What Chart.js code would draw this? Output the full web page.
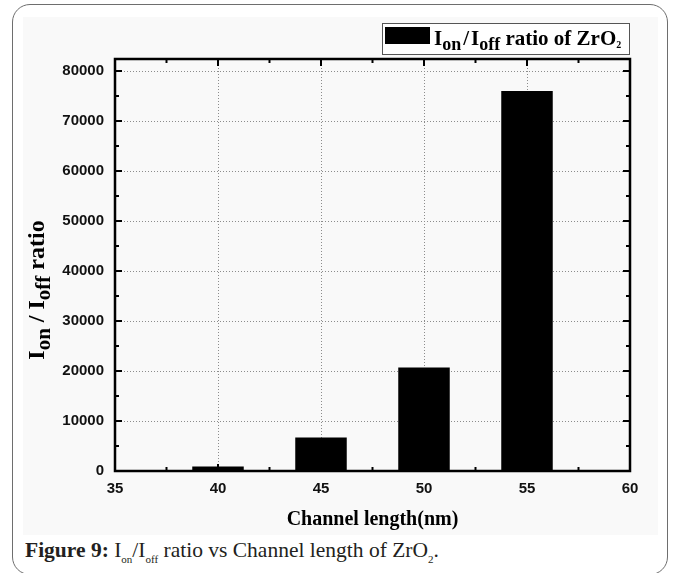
<!DOCTYPE html>
<html>
<head>
<meta charset="utf-8">
<script src="https://cdn.jsdelivr.net/npm/chart.js@4/dist/chart.umd.min.js"></script>
<style>
  html, body { margin: 0; padding: 0; background: #fff; width: 673px; height: 573px; overflow: hidden; }
  #frame { position: absolute; left: 12px; top: 4px; width: 656px; height: 571px; border: 1.5px solid #6e6e6e; border-radius: 18px; box-sizing: border-box; }
  #plot { position: absolute; left: 23px; top: 17px; width: 635px; height: 518px; background: #f9f9f9; }
  #caption { position: absolute; left: 25px; top: 540px; font-family: "Liberation Serif", serif; font-size: 21.5px; line-height: 21px; color: #231f20; white-space: nowrap; }
  #caption sub { font-size: 11px; vertical-align: -6px; line-height: 0; }
</style>
</head>
<body>
<div id="frame"></div>
<div id="plot"><canvas id="chart" width="635" height="518"></canvas></div>
<div id="caption"><b>Figure 9:</b> I<sub>on</sub>/I<sub>off</sub> ratio vs Channel length of ZrO<sub>2</sub>.</div>
<script>
// Channel length (nm) and the measured on/off current ratio
const channelLengths = [40, 45, 50, 55];
const onOffRatios = [900, 6700, 20700, 76000];
const xTickValues = [35, 40, 45, 50, 55, 60];
const yTickValues = [0, 10000, 20000, 30000, 40000, 50000, 60000, 70000, 80000];
const xMinorValues = [37.5, 42.5, 47.5, 52.5, 57.5];
const yMinorValues = [5000, 15000, 25000, 35000, 45000, 55000, 65000, 75000];

const SERIF = '"Liberation Serif", "Times New Roman", serif';

// Draw a run of text pieces (for sub-scripted labels) starting at x, baseline y
function richWidth(ctx, parts) {
  let w = 0;
  for (const p of parts) { ctx.font = p.font; w += ctx.measureText(p.t).width + (p.gap || 0); }
  return w;
}
function drawRich(ctx, x, y, parts) {
  ctx.textAlign = 'left';
  ctx.textBaseline = 'alphabetic';
  for (const p of parts) {
    ctx.font = p.font;
    ctx.fillText(p.t, x, y + (p.dy || 0));
    x += ctx.measureText(p.t).width + (p.gap || 0);
  }
}

const legendParts = [
  { t: 'I', font: 'bold 21px ' + SERIF },
  { t: 'on', font: 'bold 18px ' + SERIF, dy: 5, gap: 2 },
  { t: '/', font: 'bold 21px ' + SERIF, gap: 2 },
  { t: 'I', font: 'bold 21px ' + SERIF },
  { t: 'off', font: 'bold 18px ' + SERIF, dy: 5 },
  { t: ' ratio of ZrO', font: 'bold 21px ' + SERIF },
  { t: '2', font: 'bold 10px ' + SERIF, dy: 3 }
];
const yTitleParts = [
  { t: 'I', font: 'bold 24px ' + SERIF },
  { t: 'on', font: 'bold 21px ' + SERIF, dy: 6 },
  { t: ' / ', font: 'bold 24px ' + SERIF },
  { t: 'I', font: 'bold 24px ' + SERIF },
  { t: 'off', font: 'bold 21px ' + SERIF, dy: 6 },
  { t: ' ratio', font: 'bold 24px ' + SERIF }
];

const framePlugin = {
  id: 'originFrame',
  beforeDatasetsDraw(chart) {
    const { ctx, chartArea: a, scales: { x, y } } = chart;
    ctx.save();
    ctx.strokeStyle = '#8c8c8c';
    ctx.lineWidth = 1;
    ctx.setLineDash([1, 2]);
    for (const v of yTickValues) {
      if (v === yTickValues[0]) continue;
      const py = Math.round(y.getPixelForValue(v)) + 0.5;
      ctx.beginPath(); ctx.moveTo(a.left, py); ctx.lineTo(a.right, py); ctx.stroke();
    }
    for (const v of xTickValues) {
      if (v === xTickValues[0] || v === xTickValues[xTickValues.length - 1]) continue;
      const px = Math.round(x.getPixelForValue(v)) + 0.5;
      ctx.beginPath(); ctx.moveTo(px, a.top); ctx.lineTo(px, a.bottom); ctx.stroke();
    }
    ctx.restore();
  },
  afterDatasetsDraw(chart) {
    const { ctx, chartArea: a, scales: { x, y } } = chart;
    ctx.save();
    ctx.strokeStyle = '#000';
    ctx.lineWidth = 2.5;
    ctx.strokeRect(a.left, a.top, a.right - a.left, a.bottom - a.top);
    ctx.lineWidth = 2;
    const tick = (x1, y1, x2, y2) => { ctx.beginPath(); ctx.moveTo(x1, y1); ctx.lineTo(x2, y2); ctx.stroke(); };
    const yMarks = yTickValues.map(v => [v, 7]).concat(yMinorValues.map(v => [v, 4]));
    for (const [v, len] of yMarks) {
      const py = y.getPixelForValue(v);
      tick(a.left, py, a.left + len, py);
      tick(a.right, py, a.right - len, py);
    }
    const xMarks = xTickValues.map(v => [v, 7]).concat(xMinorValues.map(v => [v, 4]));
    for (const [v, len] of xMarks) {
      const px = x.getPixelForValue(v);
      tick(px, a.bottom, px, a.bottom - len);
      tick(px, a.top, px, a.top + len);
    }
    ctx.restore();
  },
  afterDraw(chart) {
    const { ctx, chartArea: a } = chart;
    ctx.save();
    // legend box above the plot, right-aligned
    const boxRight = a.right - 1, boxTop = a.top - 36, boxW = 247, boxH = 31;
    const boxLeft = boxRight - boxW;
    ctx.fillStyle = '#fff';
    ctx.fillRect(boxLeft, boxTop, boxW, boxH);
    ctx.strokeStyle = '#555';
    ctx.lineWidth = 1;
    ctx.strokeRect(boxLeft + 0.5, boxTop + 0.5, boxW, boxH);
    ctx.fillStyle = '#000';
    ctx.fillRect(boxLeft + 3, boxTop + 4, 45, 17);
    drawRich(ctx, boxLeft + 52, boxTop + 22, legendParts);

    // x axis title
    ctx.font = 'bold 20px ' + SERIF;
    ctx.textAlign = 'center';
    ctx.textBaseline = 'alphabetic';
    ctx.fillText('Channel length(nm)', (a.left + a.right) / 2, 508);

    // y axis title, rotated
    ctx.translate(21, 273);
    ctx.rotate(-Math.PI / 2);
    const w = richWidth(ctx, yTitleParts);
    drawRich(ctx, -w / 2, 0, yTitleParts);
    ctx.restore();
  }
};

const tickFont = { family: '"Liberation Sans", Arial, sans-serif', size: 15, weight: 'bold' };

new Chart(document.getElementById('chart'), {
  type: 'bar',
  data: {
    datasets: [{
      label: 'Ion / Ioff ratio of ZrO2',
      data: channelLengths.map((len, i) => ({ x: len, y: onOffRatios[i] })),
      backgroundColor: '#000',
      borderWidth: 0,
      barPercentage: 0.5,
      categoryPercentage: 1
    }]
  },
  options: {
    responsive: false,
    animation: false,
    layout: { padding: { top: 42, right: 28, left: 0, bottom: 0 } },
    plugins: { legend: { display: false }, tooltip: { enabled: false } },
    scales: {
      x: {
        type: 'linear',
        min: 35, max: 60,
        offset: false,
        grid: { display: false, drawTicks: false },
        border: { display: false },
        ticks: { font: tickFont, color: '#111', padding: 9, maxRotation: 0, callback: v => String(v) },
        afterBuildTicks: s => { s.ticks = xTickValues.map(v => ({ value: v })); },
        afterFit: s => { s.height = 64; }
      },
      y: {
        min: 0, max: 82400,
        grid: { display: false, drawTicks: false },
        border: { display: false },
        ticks: { font: tickFont, color: '#111', padding: 11, callback: v => String(v) },
        afterBuildTicks: s => { s.ticks = yTickValues.map(v => ({ value: v })); },
        afterFit: s => { s.width = 92; }
      }
    }
  },
  plugins: [framePlugin]
});
</script>
</body>
</html>
